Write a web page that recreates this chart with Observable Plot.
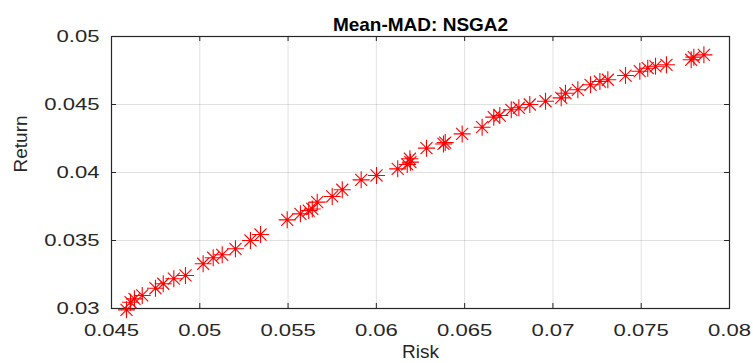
<!DOCTYPE html>
<html>
<head>
<meta charset="utf-8">
<script src="https://cdn.jsdelivr.net/npm/d3@7"></script>
<script src="https://cdn.jsdelivr.net/npm/@observablehq/plot@0.6"></script>
<style>
  html, body { margin: 0; padding: 0; background: #fff; }
</style>
</head>
<body>
<div id="chart"></div>
<script>
const titleText = "Mean-MAD: NSGA2";
const xLabel = "Risk";
const yLabel = "Return";
const xTicks = [0.045, 0.05, 0.055, 0.06, 0.065, 0.07, 0.075, 0.08];
const yTicks = [0.03, 0.035, 0.04, 0.045, 0.05];

const risk = [
  0.04585, 0.04608, 0.04630, 0.04674, 0.04749, 0.04793, 0.04853, 0.04919,
  0.05019, 0.05076, 0.05127, 0.05202, 0.05287, 0.05344, 0.05495, 0.05570,
  0.05617, 0.05637, 0.05665, 0.05750, 0.05807, 0.05914, 0.06001, 0.06121,
  0.06175, 0.06193, 0.06190, 0.06284, 0.06380, 0.06390, 0.06486, 0.06599,
  0.06665, 0.06699, 0.06764, 0.06807, 0.06869, 0.06958, 0.07047, 0.07071,
  0.07141, 0.07213, 0.07266, 0.07311, 0.07411, 0.07492, 0.07537, 0.07581,
  0.07643, 0.07783, 0.07798, 0.07855
];
const ret = [
  0.02990, 0.03046, 0.03071, 0.03096, 0.03149, 0.03182, 0.03219, 0.03243,
  0.03329, 0.03373, 0.03395, 0.03439, 0.03500, 0.03544, 0.03652, 0.03696,
  0.03720, 0.03732, 0.03782, 0.03824, 0.03873, 0.03946, 0.03978, 0.04027,
  0.04059, 0.04076, 0.04101, 0.04179, 0.04210, 0.04220, 0.04284, 0.04333,
  0.04407, 0.04419, 0.04461, 0.04476, 0.04500, 0.04524, 0.04549, 0.04583,
  0.04608, 0.04645, 0.04669, 0.04682, 0.04713, 0.04745, 0.04767, 0.04781,
  0.04792, 0.04829, 0.04848, 0.04865
];

const points = risk.map((r, i) => ({risk: r, ret: ret[i]}));

const asterisk8 = {
  draw(ctx, size) {
    const r = Math.sqrt(size / Math.PI);
    const d = r * Math.SQRT1_2;
    ctx.moveTo(-r, 0); ctx.lineTo(r, 0);
    ctx.moveTo(0, -r); ctx.lineTo(0, r);
    ctx.moveTo(-d, -d); ctx.lineTo(d, d);
    ctx.moveTo(-d, d); ctx.lineTo(d, -d);
  }
};

const axisColor = "#262626";
const W = 753, H = 363, mL = 111, mR = 24, mT = 36, mB = 55;
const tickLen = 5;
const innerW = W - mL - mR, innerH = H - mT - mB;
const fmt = d => String(d);

const chart = Plot.plot({
  width: W,
  height: H,
  marginLeft: mL,
  marginRight: mR,
  marginTop: mT,
  marginBottom: mB,
  style: {fontFamily: "'Liberation Sans', Arial, Helvetica, sans-serif", fontSize: "16px", color: axisColor, background: "#fff", overflow: "visible"},
  x: {domain: [0.045, 0.08]},
  y: {domain: [0.03, 0.05]},
  marks: [
    Plot.gridX({ticks: xTicks, stroke: "#000", strokeOpacity: 0.12}),
    Plot.gridY({ticks: yTicks, stroke: "#000", strokeOpacity: 0.12}),
    Plot.ruleX(xTicks, {x: d => d, insetTop: innerH - tickLen, stroke: axisColor}),
    Plot.ruleX(xTicks, {x: d => d, insetBottom: innerH - tickLen, stroke: axisColor}),
    Plot.ruleY(yTicks, {y: d => d, insetRight: innerW - tickLen, stroke: axisColor}),
    Plot.ruleY(yTicks, {y: d => d, insetLeft: innerW - tickLen, stroke: axisColor}),
    Plot.frame({stroke: axisColor, strokeWidth: 1.2}),
    Plot.axisX({ticks: xTicks, tickFormat: fmt, tickSize: 0, tickPadding: 16, label: null, fill: axisColor}),
    Plot.axisY({ticks: yTicks, tickFormat: fmt, tickSize: 0, tickPadding: 12, label: null, fill: axisColor}),
    Plot.dot(points, {x: "risk", y: "ret", symbol: asterisk8, r: 8.5, stroke: "#ff0000", strokeWidth: 1.1, fill: "none"}),
    Plot.text([titleText], {frameAnchor: "top", dy: -19, fontWeight: "bold", fontSize: 19, fill: "#000", ariaLabel: "ttl"}),
    Plot.text([xLabel], {frameAnchor: "bottom", dy: 49, fontSize: 19, fill: axisColor, ariaLabel: "xlab"}),
    Plot.text([yLabel], {frameAnchor: "left", dx: -91, rotate: -90, fontSize: 19, fill: axisColor, ariaLabel: "ylab"})
  ]
});

// horizontal stretch of text, as in the reference
const stretch = {"x-axis tick label": 1.38, "y-axis tick label": 1.38, "ttl": 1.2, "xlab": 1.15};
chart.querySelectorAll("g[aria-label]").forEach(g => {
  const s = stretch[g.getAttribute("aria-label")];
  if (!s) return;
  g.querySelectorAll("text").forEach(t => {
    const tr = t.getAttribute("transform");
    if (tr) {
      t.setAttribute("transform", tr + ` scale(${s},1)`);
    } else {
      const x = +(t.getAttribute("x") || 0);
      t.removeAttribute("x");
      t.setAttribute("transform", `translate(${x},0) scale(${s},1)`);
    }
  });
});

document.getElementById("chart").appendChild(chart);
</script>
</body>
</html>
